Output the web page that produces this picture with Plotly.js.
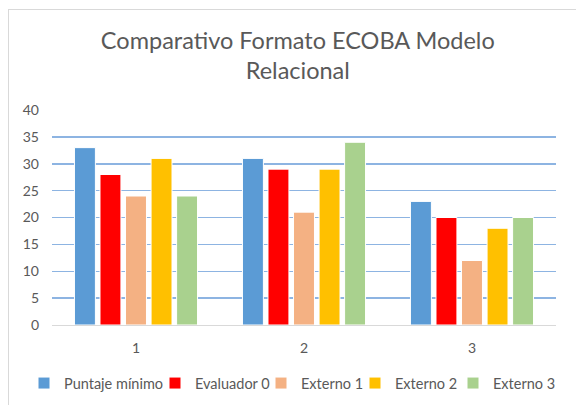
<!DOCTYPE html>
<html><head><meta charset="utf-8">
<script src="https://cdn.plot.ly/plotly-3.0.1.min.js"></script>
<style>
html,body{margin:0;padding:0;background:#fff;}
#wrap{position:relative;width:576px;height:405px;}
#frame{position:absolute;left:8px;top:9px;width:580px;height:400px;border:1px solid #d9d9d9;box-sizing:border-box;pointer-events:none;}
#chart{position:absolute;left:0;top:0;width:576px;height:405px;}
</style></head>
<body><div id="wrap"><div id="chart"></div><div id="frame"></div></div>
<script>
const categories = ["1", "2", "3"];
const seriesNames = ["Puntaje mínimo", "Evaluador 0", "Externo 1", "Externo 2", "Externo 3"];
const puntajeMinimo = [33, 31, 23];
const evaluador0 = [28, 29, 20];
const externo1 = [24, 21, 12];
const externo2 = [31, 29, 18];
const externo3 = [24, 34, 20];
const colors = ["#5b9bd5", "#ff0000", "#f4b183", "#ffc000", "#a9d18e"];
const values = [puntajeMinimo, evaluador0, externo1, externo2, externo3];

const legendIds = ["legend", "legend2", "legend3", "legend4", "legend5"];
const data = values.map((v, i) => ({
  type: "bar", x: categories, y: v, name: seriesNames[i],
  legend: legendIds[i],
  marker: {color: colors[i], line: {color: "#ffffff", width: 1}},
  hoverinfo: "y"
}));

const FONT = "Lato, Roboto, Liberation Sans, sans-serif";
// left edge (px) of each legend entry in the frame
const legendLeft = [24, 155, 261, 355, 453];
const layout = {
  width: 576, height: 405,
  margin: {l: 52, r: 20, t: 110, b: 80, autoexpand: false},
  paper_bgcolor: "#ffffff", plot_bgcolor: "#ffffff",
  font: {family: FONT, color: "#595959"},
  title: {text: "Comparativo Formato ECOBA Modelo<br>Relacional", font: {size: 23.5, color: "#595959", family: FONT}, x: 0.517, xanchor: "center", y: 0.88, yanchor: "middle", yref: "container"},
  barmode: "group", bargap: 0.24, bargroupgap: 0.18,
  xaxis: {type: "category", tickfont: {size: 14, color: "#595959"}, showgrid: false, showline: true, linecolor: "#d9d9d9", ticks: "", zeroline: false, ticklabelstandoff: 10},
  yaxis: {range: [0, 40], dtick: 5, tickfont: {size: 14, color: "#595959"}, gridcolor: "#8db4e2", gridwidth: 1.5, zeroline: false, showline: false, ticks: "", ticklabelstandoff: 12, fixedrange: true},
  showlegend: true
};
legendIds.forEach((id, i) => {
  layout[id] = {orientation: "h", x: legendLeft[i] / 576, xanchor: "left", xref: "container",
    y: 0.054, yanchor: "middle", yref: "container", font: {size: 14.5, color: "#595959"},
    itemwidth: 30, bgcolor: "rgba(0,0,0,0)"};
});
Plotly.newPlot("chart", data, layout, {displayModeBar: false, staticPlot: true});
</script></body></html>
